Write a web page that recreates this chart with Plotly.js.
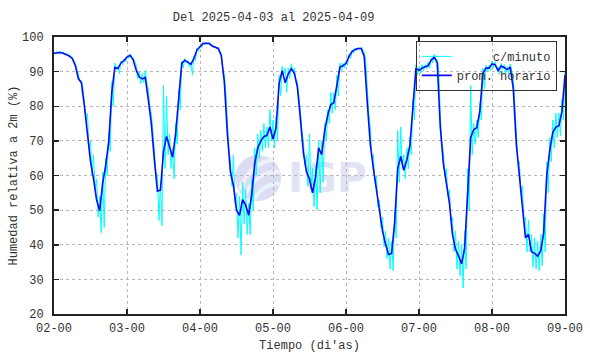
<!DOCTYPE html>
<html>
<head>
<meta charset="utf-8">
<script src="https://cdn.plot.ly/plotly-3.0.1.min.js"></script>
<style>html,body{margin:0;padding:0;background:#fff;}#chart{width:590px;height:354px;}</style>
</head>
<body>
<div id="chart"></div>
<script>
// Tick labels (day-hour)
const tickLabels = ['02-00','03-00','04-00','05-00','06-00','07-00','08-00','09-00'];

// Hourly average relative humidity (%), one value per hour from 02-00 to 09-00
const promHorario = [
  // 02
  95.3, 95.5, 95.5, 95.3, 95.0, 94.5, 93.8, 91.8, 88.0, 86.8, 80.0, 71.5, 64.0, 59.0, 53.0, 49.8, 57.7, 63.0, 69.8, 84.0, 91.2, 90.9, 92.5, 93.2,
  // 03
  94.2, 94.7, 93.5, 90.5, 88.5, 87.9, 88.3, 82.0, 75.0, 64.5, 55.5, 55.8, 67.0, 71.3, 68.6, 65.3, 72.2, 82.0, 92.4, 93.3, 92.8, 92.1, 93.8, 96.3,
  // 04
  97.2, 98.1, 98.2, 98.1, 97.4, 97.0, 96.7, 94.6, 87.0, 72.0, 61.0, 57.0, 50.0, 48.5, 53.0, 51.5, 48.5, 54.5, 63.5, 68.0, 70.0, 71.2, 71.6, 74.0,
  // 05
  70.5, 73.8, 86.5, 90.3, 86.8, 89.3, 90.8, 89.5, 85.7, 76.5, 66.5, 61.1, 59.0, 55.0, 59.5, 68.0, 66.0, 73.0, 77.5, 80.5, 81.0, 86.0, 91.3, 91.7,
  // 06
  92.4, 94.4, 95.8, 96.4, 96.7, 96.7, 94.4, 81.0, 69.0, 62.0, 55.5, 49.3, 44.0, 40.2, 37.2, 37.5, 46.5, 62.0, 65.5, 61.5, 64.5, 68.6, 79.0, 91.0,
  // 07
  90.3, 91.0, 91.4, 91.7, 93.3, 94.2, 92.5, 74.0, 63.5, 58.0, 52.0, 43.0, 38.7, 36.8, 34.5, 39.0, 57.0, 71.0, 73.3, 73.8, 78.5, 89.5, 91.0, 91.0,
  // 08
  92.2, 92.0, 90.3, 91.6, 91.2, 90.6, 91.3, 85.0, 69.0, 59.5, 51.5, 42.0, 43.0, 38.0, 37.5, 36.7, 38.2, 43.5, 60.0, 67.3, 72.5, 74.0, 74.4, 78.5,
  // 09-00
  89.0
];

// Per-minute readings: highest and lowest value seen within each hour
const minutoAlto = [
  95.7, 95.9, 95.9, 95.7, 95.4, 94.9, 94.2, 92.4, 89.0, 87.5, 81.0, 78.0, 70.0, 66.0, 59.0, 54.0, 61.0, 65.0, 72.0, 87.0, 92.5, 91.5, 93.0, 93.6,
  94.5, 95.0, 94.0, 92.0, 90.0, 89.5, 90.3, 85.0, 78.0, 68.0, 60.0, 58.0, 86.0, 83.0, 72.0, 68.0, 75.0, 85.0, 93.0, 93.8, 93.3, 92.8, 94.4, 96.7,
  97.5, 98.4, 98.5, 98.4, 97.8, 97.3, 97.0, 95.2, 89.0, 75.0, 64.0, 66.0, 55.0, 54.0, 58.0, 56.0, 52.0, 59.0, 68.0, 72.0, 73.0, 75.0, 74.0, 79.0,
  76.0, 77.0, 89.0, 91.5, 91.0, 91.0, 92.3, 91.0, 87.0, 79.0, 70.0, 66.0, 72.0, 62.0, 63.0, 70.0, 70.0, 75.0, 79.0, 84.0, 84.0, 89.0, 92.5, 92.4,
  93.0, 95.0, 96.3, 96.8, 97.0, 97.0, 95.5, 84.0, 74.0, 66.0, 60.0, 53.0, 48.0, 44.0, 42.0, 41.0, 50.0, 73.0, 74.0, 66.0, 68.0, 71.0, 82.0, 92.0,
  91.5, 92.0, 92.0, 92.8, 94.0, 95.0, 93.5, 78.0, 67.0, 62.0, 56.0, 48.0, 44.0, 41.0, 40.0, 44.0, 62.0, 86.0, 75.0, 76.0, 81.0, 91.0, 91.8, 91.8,
  93.0, 92.8, 91.5, 92.3, 92.0, 91.5, 92.2, 88.0, 73.0, 64.0, 57.0, 48.0, 47.0, 43.0, 42.0, 41.0, 43.0, 49.0, 64.0, 71.0, 76.0, 78.0, 78.0, 82.0,
  90.0
];
const minutoBajo = [
  95.0, 95.2, 95.2, 95.0, 94.7, 94.2, 93.5, 91.0, 87.3, 85.5, 76.0, 68.0, 60.0, 56.0, 48.0, 43.5, 45.0, 60.0, 67.0, 80.0, 90.5, 89.5, 92.0, 92.8,
  93.8, 94.4, 93.0, 88.0, 86.5, 86.8, 87.0, 80.0, 73.0, 61.0, 47.0, 45.5, 62.0, 66.0, 62.0, 59.0, 69.0, 79.0, 91.0, 92.6, 91.5, 89.0, 93.2, 95.8,
  96.9, 97.8, 98.0, 97.8, 97.0, 96.6, 96.3, 91.0, 84.0, 68.0, 57.0, 52.0, 42.0, 37.0, 46.0, 43.0, 43.0, 50.0, 60.0, 65.0, 67.0, 68.0, 68.0, 70.0,
  68.0, 70.0, 83.0, 89.0, 84.0, 88.0, 90.0, 88.0, 83.0, 73.0, 63.0, 57.0, 56.0, 51.0, 50.0, 55.0, 58.0, 70.0, 75.0, 78.0, 79.0, 83.0, 90.0, 91.0,
  91.8, 93.8, 95.3, 96.0, 96.4, 96.4, 93.0, 78.0, 65.0, 58.0, 51.0, 45.0, 39.5, 36.0, 33.0, 32.5, 42.0, 58.0, 62.0, 59.0, 62.0, 66.0, 76.0, 89.0,
  89.5, 90.2, 90.8, 91.0, 92.5, 93.5, 90.5, 70.0, 60.0, 54.0, 47.0, 38.0, 33.0, 31.0, 27.5, 33.0, 50.0, 66.0, 69.0, 71.0, 76.0, 85.0, 90.0, 90.3,
  91.0, 91.0, 89.2, 90.6, 89.5, 89.3, 90.3, 81.0, 64.0, 55.0, 47.0, 38.0, 38.0, 33.5, 33.0, 32.5, 34.0, 38.0, 55.0, 64.0, 68.0, 71.0, 71.5, 76.0,
  87.0
];

const horas = promHorario.map((v, i) => i);
const minX = [], minY = [];
minutoAlto.forEach((v, i) => {
  minX.push(i, i + 0.5);
  minY.push(minutoAlto[i], minutoBajo[i]);
});
const tickVals = tickLabels.map((t, i) => i * 24);

const fontMono = {family: 'Liberation Mono, DejaVu Sans Mono, monospace', size: 12, color: '#333'};

const logoSvg =
  "<svg xmlns='http://www.w3.org/2000/svg' width='135' height='56' viewBox='0 0 135 56'>" +
  "<circle cx='28' cy='28' r='23' fill='#dcdcf3'/>" +
  "<path d='M10 40 Q20 12 44 10' stroke='#eef0fb' stroke-width='4' fill='none'/>" +
  "<path d='M14 46 Q28 20 50 22' stroke='#eef0fb' stroke-width='4' fill='none'/>" +
  "<path d='M24 50 Q34 32 50 34' stroke='#e8f2fb' stroke-width='4' fill='none'/>" +
  "<text x='58' y='42' font-family='DejaVu Sans, sans-serif' font-weight='bold' font-size='41' fill='#e2e2f5'>IGP</text>" +
  "</svg>";

const traces = [
  {
    x: minX, y: minY, type: 'scatter', mode: 'lines',
    name: '\u00a0\u00a0\u00a0\u00a0\u00a0c/minuto',
    line: {color: '#00ffff', width: 1}
  },
  {
    x: horas, y: promHorario, type: 'scatter', mode: 'lines',
    name: 'prom. horario',
    line: {color: '#0a0af5', width: 1.6}
  }
];

const axisCommon = {
  showline: true, linecolor: '#222', linewidth: 2, mirror: 'ticks',
  ticks: 'inside', ticklen: 5, tickwidth: 1.5, tickcolor: '#222',
  showgrid: true, gridcolor: '#b8b8b8', griddash: 'dot', gridwidth: 1,
  zeroline: false, tickfont: fontMono
};

const layout = {
  width: 590, height: 354,
  margin: {l: 54, r: 25, t: 37, b: 40},
  paper_bgcolor: '#ffffff',
  plot_bgcolor: 'rgba(0,0,0,0)',
  font: fontMono,
  title: {text: 'Del 2025-04-03 al 2025-04-09', font: fontMono, xref: 'container', x: 0.4636, xanchor: 'center', yref: 'container', y: 0.952, yanchor: 'middle'},
  xaxis: Object.assign({}, axisCommon, {
    range: [0, 168], tickvals: tickVals, ticktext: tickLabels,
    ticklabelstandoff: 2,
    title: {text: "Tiempo (di'as)", font: fontMono, standoff: 5}
  }),
  yaxis: Object.assign({}, axisCommon, {
    range: [20, 100], tick0: 20, dtick: 10,
    ticklabelstandoff: 6,
    title: {text: 'Humedad relativa a 2m (%)', font: fontMono, standoff: 2}
  }),
  showlegend: true,
  legend: {
    x: 0.984, y: 0.986, xanchor: 'right', yanchor: 'top',
    bgcolor: 'rgba(0,0,0,0)', bordercolor: '#333', borderwidth: 1,
    font: fontMono, tracegroupgap: 0
  },
  images: [{
    source: 'data:image/svg+xml;charset=utf-8,' + encodeURIComponent(logoSvg),
    xref: 'paper', yref: 'paper',
    x: 0.3444, y: 0.5921, sizex: 0.2642, sizey: 0.2022,
    xanchor: 'left', yanchor: 'top', sizing: 'stretch', layer: 'below'
  }]
};

Plotly.newPlot('chart', traces, layout, {staticPlot: true, displayModeBar: false});
</script>
</body>
</html>
